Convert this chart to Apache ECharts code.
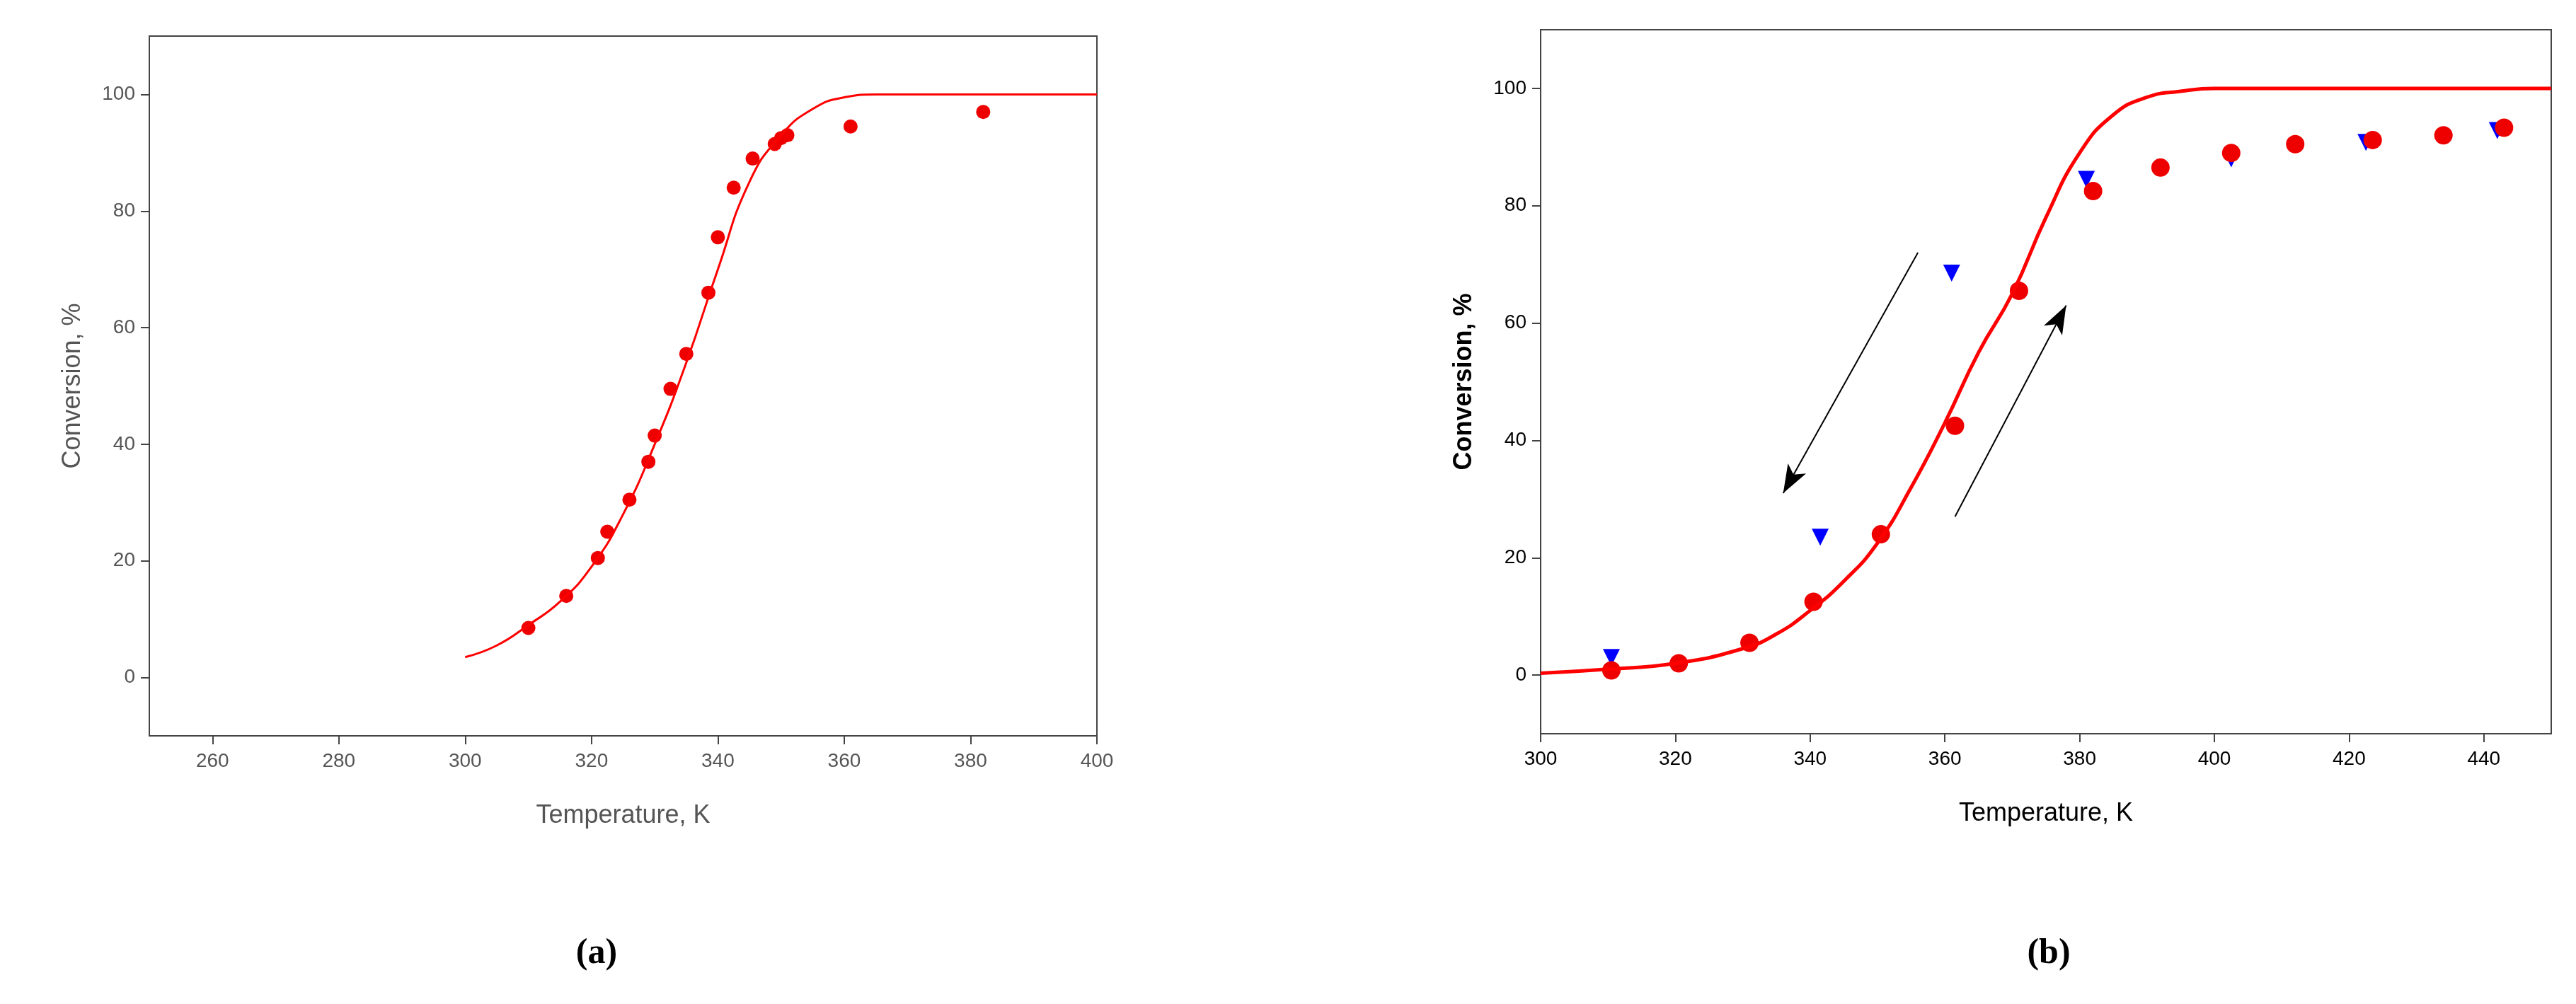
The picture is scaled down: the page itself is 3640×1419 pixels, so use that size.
<!DOCTYPE html><html><head><meta charset="utf-8"><script src="https://cdn.jsdelivr.net/npm/echarts@6/dist/echarts.min.js"></script>
<style>body{margin:0;background:#fff}#c{width:3640px;height:1419px}</style></head><body><div id="c"></div><script>
const aPoints=[[310,8.5],[316,14],[321,20.5],[322.5,25],[326,30.5],[329,37],[330,41.5],[332.5,49.5],[335,55.5],[338.5,66],[340,75.5],[342.5,84],[345.5,89],[349,91.5],[350,92.5],[351,93],[361,94.5],[382,97]];
const aCurve=[[300,3.5],[305,5.5],[310,9],[315,13],[320,19],[325,28],[330,40],[335,54],[340,70],[345,85],[350,93],[355,97.5],[360,99.5],[365,100],[400,100]];
const bCurve=[[300,0.3],[310,1],[320,2],[330,4.5],[335,7],[340,11],[345,16],[350,22.5],[355,32],[360,43],[365,55],[370,65],[375,78],[380,89],[385,95.5],[390,98.5],[395,99.5],[400,100],[450,100]];
const bHeating=[[310.5,0.8],[320.5,2],[331,5.5],[340.5,12.5],[350.5,24],[361.5,42.5],[371,65.5],[382,82.5],[392,86.5],[402.5,89],[412,90.5],[423.5,91.2],[434,92],[443,93.3]];
const bCooling=[[310.5,3],[341.5,23.5],[361,68.5],[381,84.5],[402.5,88],[422.5,90.8],[442,92.8]];
const arrows=[[[356,72],[336,31]],[[361.5,27],[378,63]]];
const yTicks=[0,20,40,60,80,100];
const aXTicks=[260,280,300,320,340,360,380,400];
const bXTicks=[300,320,340,360,380,400,420,440];
const c=echarts.init(document.getElementById('c'));
function xA(i,min,max,col,ticks){return {gridIndex:i,type:'value',min:min,max:max,name:'Temperature, K',nameLocation:'middle',nameGap:95,
 nameTextStyle:{fontSize:36,color:col,fontFamily:'Liberation Sans'},axisLine:{onZero:false,lineStyle:{color:'#444',width:2}},axisTick:{length:12,customValues:ticks,lineStyle:{color:'#444',width:2}},
 axisLabel:{fontSize:28,color:col,margin:22,fontFamily:'Liberation Sans',customValues:ticks},splitLine:{show:false}};}
function yA(i,col,bold){return {gridIndex:i,type:'value',min:-10,max:110,name:'Conversion, %',nameLocation:'middle',nameGap:90,
 nameTextStyle:{fontSize:36,color:col,fontWeight:bold?'bold':'normal',fontFamily:'Liberation Sans'},axisLine:{lineStyle:{color:'#444',width:2}},axisTick:{length:12,customValues:yTicks,lineStyle:{color:'#444',width:2}},
 axisLabel:{fontSize:28,color:col,margin:20,fontFamily:'Liberation Sans',customValues:yTicks},splitLine:{show:false}};}
c.setOption({animation:false,
 grid:[{left:211,top:51,width:1339,height:989,show:true,borderColor:'#444',borderWidth:2},{left:2177,top:42,width:1428,height:995,show:true,borderColor:'#444',borderWidth:2}],
 xAxis:[xA(0,250,400,'#555',aXTicks),xA(1,300,450,'#000',bXTicks)],
 yAxis:[yA(0,'#555',false),yA(1,'#000',true)],
 title:[{text:'(a)',left:838,top:1318,textAlign:'center',textStyle:{fontSize:50,fontWeight:'bold',fontFamily:'Liberation Serif',color:'#000'}},
  {text:'(b)',left:2890,top:1318,textAlign:'center',textStyle:{fontSize:50,fontWeight:'bold',fontFamily:'Liberation Serif',color:'#000'}}],
 series:[
  {type:'line',xAxisIndex:0,yAxisIndex:0,data:aCurve,smooth:true,symbol:'none',lineStyle:{color:'#ff0000',width:3}},
  {type:'scatter',xAxisIndex:0,yAxisIndex:0,data:aPoints,symbolSize:20,itemStyle:{color:'#ee0000',opacity:1}},
  {type:'line',xAxisIndex:1,yAxisIndex:1,data:bCurve,smooth:true,symbol:'none',lineStyle:{color:'#ff0000',width:5},
   markLine:{silent:true,symbol:['none','arrow'],symbolSize:[22,40],label:{show:false},lineStyle:{color:'#000',width:2,type:'solid'},
    data:arrows.map(a=>[{coord:a[0]},{coord:a[1]}])}},
  {type:'scatter',xAxisIndex:1,yAxisIndex:1,data:bCooling,symbol:'triangle',symbolRotate:180,symbolSize:24,itemStyle:{color:'#0000ff',opacity:1}},
  {type:'scatter',xAxisIndex:1,yAxisIndex:1,data:bHeating,symbolSize:26,itemStyle:{color:'#ee0000',opacity:1}}
 ]});
</script></body></html>
